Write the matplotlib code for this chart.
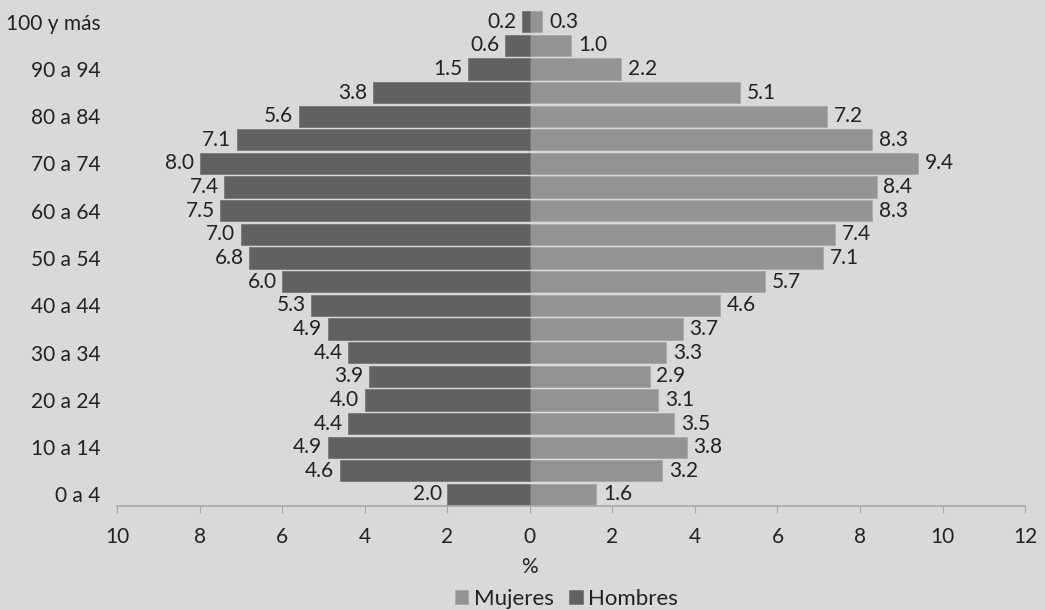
import matplotlib.pyplot as plt
import numpy as np

plt.rcParams['font.family'] = ['Lato', 'DejaVu Sans']

# age groups, bottom to top
grupos = ['0 a 4', '5 a 9', '10 a 14', '15 a 19', '20 a 24', '25 a 29', '30 a 34',
          '35 a 39', '40 a 44', '45 a 49', '50 a 54', '55 a 59', '60 a 64', '65 a 69',
          '70 a 74', '75 a 79', '80 a 84', '85 a 89', '90 a 94', '95 a 99', '100 y más']
hombres = [2.0, 4.6, 4.9, 4.4, 4.0, 3.9, 4.4, 4.9, 5.3, 6.0, 6.8, 7.0, 7.5, 7.4,
           8.0, 7.1, 5.6, 3.8, 1.5, 0.6, 0.2]
mujeres = [1.6, 3.2, 3.8, 3.5, 3.1, 2.9, 3.3, 3.7, 4.6, 5.7, 7.1, 7.4, 8.3, 8.4,
           9.4, 8.3, 7.2, 5.1, 2.2, 1.0, 0.3]
xticks = [-10, -8, -6, -4, -2, 0, 2, 4, 6, 8, 10, 12]
xticklabels = ['10', '8', '6', '4', '2', '0', '2', '4', '6', '8', '10', '12']

bg = '#d9d9db'
c_muj = '#939393'
c_hom = '#616161'
txt = '#222222'

fig = plt.figure(figsize=(10.45, 6.1), dpi=100, facecolor=bg)
ax = fig.add_axes([0.112, 0.170, 0.869, 0.814])
ax.set_facecolor(bg)

y = np.arange(len(grupos))
bm = ax.barh(y, mujeres, height=0.9, color=c_muj, edgecolor='#a8a8a8', linewidth=0.6, label='Mujeres')
bh = ax.barh(y, [-v for v in hombres], height=0.9, color=c_hom, edgecolor='#777777', linewidth=0.6, label='Hombres')

for yi, v in zip(y, mujeres):
    ax.annotate(f'{v:.1f}', (v, yi), xytext=(5, 0), textcoords='offset points',
                ha='left', va='center', fontsize=15, color=txt)
for yi, v in zip(y, hombres):
    ax.annotate(f'{v:.1f}', (-v, yi), xytext=(-4, 0), textcoords='offset points',
                ha='right', va='center', fontsize=15, color=txt)

ax.set_xlim(-10, 12)
ax.set_ylim(-0.5, len(grupos) - 0.5)
ax.set_xticks(xticks)
ax.set_xticklabels(xticklabels, fontsize=15, color=txt)
ax.set_yticks(y[::2])
ax.set_yticklabels(grupos[::2], fontsize=15, color=txt)
ax.tick_params(axis='y', length=0, pad=12)
ax.tick_params(axis='x', length=5, color='#a8a8a8', pad=10)
for s in ['top', 'right', 'left']:
    ax.spines[s].set_visible(False)
ax.spines['bottom'].set_color('#a8a8a8')
ax.spines['bottom'].set_linewidth(1.2)

ax.set_xlabel('%', fontsize=15, color=txt)
ax.xaxis.set_label_coords(10 / 22, -0.102)

leg = fig.legend(handles=[bm, bh], labels=['Mujeres', 'Hombres'], loc='center',
                 bbox_to_anchor=(0.542, 0.018), ncol=2, frameon=False, fontsize=16,
                 handlelength=0.6, handleheight=0.6, handletextpad=0.25, columnspacing=0.7,
                 borderaxespad=0)
for t in leg.get_texts():
    t.set_color(txt)

fig.savefig('out.png', dpi=100, facecolor=bg)
